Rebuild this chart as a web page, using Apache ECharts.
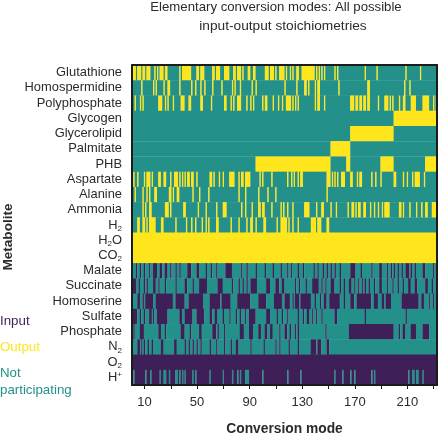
<!DOCTYPE html>
<html>
<head>
<meta charset="utf-8">
<script src="https://cdn.jsdelivr.net/npm/echarts@6/dist/echarts.min.js"></script>
<style>html,body{margin:0;padding:0;background:#fff}#c{width:440px;height:433px}</style>
</head>
<body>
<div id="c"></div>
<script>
// Conversion-mode ranges per metabolite: a number is one mode, a pair is an inclusive run of modes.
const glutathione = [[1,3],[5,7],[9,10],[12,14],18,20,[22,24],[26,27],37,[39,45],[50,51],[53,55],[62,63],[65,67],[71,74],[78,79],[81,83],85,[89,90],[93,94],[102,104],[106,108],110,[113,116],118,121,123,[126,127],[130,132],[133,135],[136,139],141,143,145,147,155,157,178,187,209,220];
const homospermidine = [8,17,19,25,[28,29],37,46,49,53,56,62,69,77,79,83,92,95,117,126,[132,133],135,140,[142,143],158,[180,181],208,212];
const polyphosphate = [3,7,9,[21,23],26,28,32,[38,40],[44,45],[53,54],61,[71,72],76,78,[81,83],88,91,93,100,[102,103],108,112,115,[118,120],121,123,125,127,140,[142,143],147,[167,169],[171,172],[174,175],[177,178],[180,181],188,[193,195],197,199,204,[207,208],[213,216],[222,226],230,232];
const glycogen = [[200,232]];
const glycerolipid = [[167,199]];
const palmitate = [[152,166]];
const phb = [[95,151],[164,166],[190,199],[224,232]];
const aspartate = [2,5,10,[12,14],16,[21,22],[25,26],30,[33,34],35,37,39,41,[43,44],[46,47],50,[60,61],63,67,70,[75,78],82,[84,85],[87,90],98,100,107,119,122,124,127,[129,130],[149,151],153,155,157,[160,162],[167,168],172,[174,175],183,186,190,[200,201],207,210,214,[216,219],223];
const alanine = [3,9,12,14,[18,19],[29,30],32,[35,36],47,52,59,82,87,97,104,110,149];
const ammonia = [9,11,[14,15],[26,28],30,[40,41],51,57,65,[70,72],84,87,92,[97,98],[100,101],107,114,116,119,123,[132,135],141,[145,146],152,156,165,[168,169],171,[173,174],[177,178],182,185,188,191,[193,196],[204,205],207,212,217,221,[224,225],[229,230],[231,232]];
const h2 = [[5,6],[9,10],12,[14,15],[16,18],[23,24],34,42,46,49,54,57,59,[65,66],76,82,88,[91,92],95,[101,102],111,[114,117],118,120,123,127,[137,140],[142,144],[149,150]];
const h2o = [[1,232]];
const co2 = [[1,232]];
const malate = [4,7,10,14,[17,19],[22,23],[26,27],30,34,37,[43,45],[50,51],57,61,65,[72,76],84,88,95,102,108,114,119,122,127,131,139,142,146,149,152,155,159,[167,170],175,183,[189,190],195,198,200,203,206,[209,211],213,216,[222,223],230];
const succinate = [[1,3],6,10,12,[17,18],21,26,34,[41,42],47,[52,57],[66,69],77,82,85,88,[91,95],[103,105],[110,112],[115,116],125,128,133,[138,142],145,148,[152,154],159,162,[166,167],170,173,176,178,181,185,[189,190],195,199,203,207,[211,212],[216,217],[224,225],229];
const homoserine = [[5,6],9,[11,16],[19,31],[34,40],[44,54],[60,67],[69,75],[81,90],[97,102],[109,114],[117,120],123,[125,127],[129,136],140,144,[147,148],[151,158],162,[167,169],[172,182],[185,187],[191,192],[194,197],[206,218],[221,222],227,230];
const sulfate = [[1,4],7,10,[14,15],17,[20,27],[37,38],[41,46],[50,55],[60,61],[64,65],70,75,80,83,87,[90,94],[103,105],111,115,119,127,131,[134,135],138,141,145,[155,156],178,209];
const phosphate = [2,[7,9],[21,22],26,[38,40],45,[52,53],[62,64],66,71,[83,85],[90,92],[97,98],[102,103],[106,107],113,[117,118],121,125,127,148,[166,199],204,[207,208],[213,216],[222,226]];
const n2 = [5,6,8,10,13,16,[23,24],[33,34],41,44,47,50,53,60,65,71,76,[80,81],91,101,110,113,120,127,[137,140],[142,144],[149,150]];
const o2 = [];
const hplus = [2,11,15,22,[25,26],29,34,35,37,39,41,47,49,60,70,77,81,83,[87,89],100,119,129,155,161,167,170,183,185,211,[214,215],[217,218],222];

const metabolites = ['Glutathione','Homospermidine','Polyphosphate','Glycogen','Glycerolipid','Palmitate','PHB','Aspartate','Alanine','Ammonia','H{s|2}','H{s|2}O','CO{s|2}','Malate','Succinate','Homoserine','Sulfate','Phosphate','N{s|2}','O{s|2}','H{u|+}'];
const modeCount = 232;
const xTickLabels = [10,50,90,130,170,210];
const xTickMarks = [10,30,50,70,90,110,130,150,170,190,210,230];
const titleLines = ['Elementary conversion modes: All possible', 'input-output stoichiometries'];
const INPUT = 0, NOT_PARTICIPATING = 1, OUTPUT = 2;
const colors = ['#3f1f57', '#23908a', '#ffe61c'];

// row order, background state, state of the listed modes
const rows = [
  [glutathione, NOT_PARTICIPATING, OUTPUT],[homospermidine, NOT_PARTICIPATING, OUTPUT],[polyphosphate, NOT_PARTICIPATING, OUTPUT],
  [glycogen, NOT_PARTICIPATING, OUTPUT],[glycerolipid, NOT_PARTICIPATING, OUTPUT],[palmitate, NOT_PARTICIPATING, OUTPUT],
  [phb, NOT_PARTICIPATING, OUTPUT],[aspartate, NOT_PARTICIPATING, OUTPUT],[alanine, NOT_PARTICIPATING, OUTPUT],
  [ammonia, NOT_PARTICIPATING, OUTPUT],[h2, NOT_PARTICIPATING, OUTPUT],[h2o, NOT_PARTICIPATING, OUTPUT],[co2, NOT_PARTICIPATING, OUTPUT],
  [malate, NOT_PARTICIPATING, INPUT],[succinate, NOT_PARTICIPATING, INPUT],[homoserine, NOT_PARTICIPATING, INPUT],
  [sulfate, NOT_PARTICIPATING, INPUT],[phosphate, NOT_PARTICIPATING, INPUT],[n2, NOT_PARTICIPATING, INPUT],
  [o2, INPUT, NOT_PARTICIPATING],[hplus, INPUT, NOT_PARTICIPATING]
];

const modes = [];
for (let i = 1; i <= modeCount; i++) modes.push(i);

// Each stretch of equal state in a row becomes one datum: [first index, last index, row, state]
const stretches = [];
rows.forEach(([runs, base, mark], r) => {
  const vals = new Array(modeCount).fill(base);
  runs.forEach(run => {
    const a = Array.isArray(run) ? run[0] : run;
    const b = Array.isArray(run) ? run[1] : run;
    for (let m = a; m <= b; m++) vals[m - 1] = mark;
  });
  let start = 0;
  for (let i = 1; i <= modeCount; i++) {
    if (i === modeCount || vals[i] !== vals[start]) {
      stretches.push([start, i - 1, r, vals[start]]);
      start = i;
    }
  }
});

const txt = '#2b2b2b', font = '"Liberation Sans", Arial, sans-serif';
const chart = echarts.init(document.getElementById('c'), null, {renderer: 'canvas'});
const frameLine = {show: true, lineStyle: {color: '#1c1c1c', width: 2}};
const sideText = (text, y, color) => ({type: 'text', left: 0, top: y, silent: true,
  style: {text, fill: color, font: '13.3px ' + font}});
const titleStyle = {fontFamily: font, fontSize: 13.2, fontWeight: 'normal', color: txt};

chart.setOption({
  animation: false,
  backgroundColor: '#fff',
  title: [
    {text: titleLines[0], left: 271, top: -4, textAlign: 'center', textStyle: titleStyle},
    {text: titleLines[1], left: 278, top: 14, textAlign: 'center', textStyle: {...titleStyle, fontSize: 13.7}}
  ],
  grid: {left: 132, top: 65, right: 3, bottom: 48, outerBoundsMode: 'none'},
  xAxis: [{
    type: 'category', data: modes, position: 'bottom', z: 5,
    name: 'Conversion mode', nameLocation: 'middle', nameGap: 37,
    nameTextStyle: {fontFamily: font, fontSize: 13.8, fontWeight: 'bold', color: txt},
    axisLine: frameLine,
    axisTick: {show: true, alignWithLabel: true, length: 4, lineStyle: {color: '#1c1c1c', width: 1},
      interval: i => xTickMarks.includes(modes[i])},
    axisLabel: {interval: i => xTickLabels.includes(modes[i]), margin: 11, fontFamily: font, fontSize: 13, color: txt},
    splitLine: {show: false}
  }, {
    type: 'category', data: modes, position: 'top', z: 5,
    axisLine: frameLine, axisTick: {show: false}, axisLabel: {show: false}, splitLine: {show: false}
  }],
  yAxis: [{
    type: 'category', data: metabolites, inverse: true, position: 'left', z: 5,
    axisLine: frameLine, axisTick: {show: false}, splitLine: {show: false},
    axisLabel: {interval: 0, margin: 10, fontFamily: font, fontSize: 12.9, color: txt, align: 'right',
      rich: {s: {fontSize: 8, fontFamily: font, color: txt, padding: [7, 0, 0, 0]},
             u: {fontSize: 8, fontFamily: font, color: txt, padding: [0, 0, 5, 0]}}}
  }, {
    type: 'category', data: metabolites, inverse: true, position: 'right', z: 5,
    axisLine: frameLine, axisTick: {show: false}, axisLabel: {show: false}, splitLine: {show: false}
  }],
  series: [{
    type: 'custom', xAxisIndex: 0, yAxisIndex: 0, data: stretches, silent: true, progressive: 0,
    encode: {x: [0, 1], y: 2},
    renderItem: (params, api) => {
      const first = api.coord([api.value(0), api.value(2)]);
      const last = api.coord([api.value(1), api.value(2)]);
      const size = api.size([1, 1]);
      return {
        type: 'rect',
        shape: {x: first[0] - size[0] / 2, y: first[1] - size[1] / 2,
          width: last[0] - first[0] + size[0] + 0.25, height: size[1] + 0.4},
        style: {fill: colors[api.value(3)]}
      };
    }
  }],
  graphic: [
    {type: 'text', x: 8, y: 237, rotation: Math.PI / 2, silent: true,
      style: {text: 'Metabolite', fill: txt, font: 'bold 13.6px ' + font, align: 'center', verticalAlign: 'middle'}},
    sideText('Input', 315, colors[INPUT]),
    sideText('Output', 341, colors[OUTPUT]),
    sideText('Not', 367, colors[NOT_PARTICIPATING]),
    sideText('participating', 384, colors[NOT_PARTICIPATING])
  ]
});
</script>
</body>
</html>
